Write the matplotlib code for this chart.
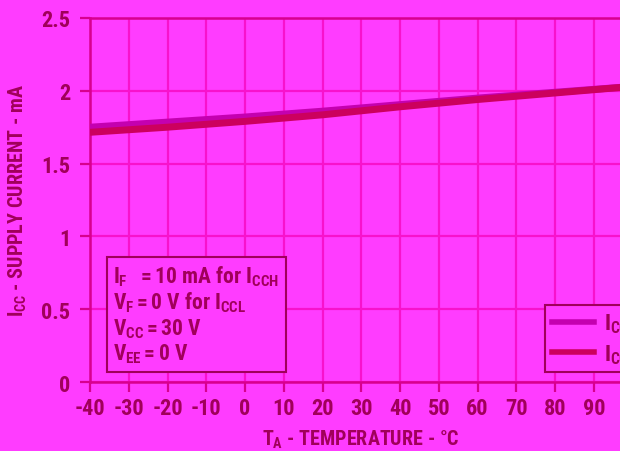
import matplotlib
matplotlib.use("Agg")
import matplotlib.pyplot as plt
from matplotlib.lines import Line2D
from matplotlib import font_manager as fm

# Data
temps = [-40, -20, 0, 20, 40, 60, 80, 100]
icch = [1.75, 1.785, 1.82, 1.86, 1.905, 1.95, 1.99, 2.03]
iccl = [1.715, 1.75, 1.79, 1.835, 1.89, 1.94, 1.985, 2.03]
xticks = [-40, -30, -20, -10, 0, 10, 20, 30, 40, 50, 60, 70, 80, 90]
yticks = [0, 0.5, 1, 1.5, 2, 2.5]
ytick_labels = ["0", "0.5", "1", "1.5", "2", "2.5"]
series_labels = [r"$I_{CCH}$", r"$I_{CCL}$"]
conditions = (r"$I_F\ \ = 10\ mA\ for\ I_{CCH}$" "\n"
              r"$V_F = 0\ V\ for\ I_{CCL}$" "\n"
              r"$V_{CC} = 30\ V$" "\n"
              r"$V_{EE} = 0\ V$")

names = {f.name for f in fm.fontManager.ttflist}
stretches = {(f.name, f.stretch) for f in fm.fontManager.ttflist}
FONT = "DejaVu Sans"
STRETCH = "normal"
for cand in ["Liberation Sans Narrow", "Roboto Condensed", "Open Sans Condensed",
             "DejaVu Sans Condensed"]:
    if cand in names:
        FONT = cand
        break
else:
    for nm, st in stretches:
        if nm == "DejaVu Sans" and st not in ("normal", 500):
            STRETCH = "condensed"

plt.rcParams["font.family"] = [FONT, "DejaVu Sans"]
plt.rcParams["font.weight"] = "bold"
plt.rcParams["font.stretch"] = STRETCH
plt.rcParams["mathtext.fontset"] = "custom"
spec = FONT + ":bold" + (":condensed" if STRETCH == "condensed" else "")
for k in ("rm", "it", "bf", "sf"):
    plt.rcParams["mathtext." + k] = spec

BG = "#FF3CFF"
GRID = "#F812CC"
SPINE = "#D8008E"
TEXT = "#A0005A"
C_H = "#C400B0"
C_L = "#CC005E"

W, H = 620, 452
fig = plt.figure(figsize=(W / 100, H / 100), dpi=100, facecolor=BG)
x0, x1 = 90, 90 + 140 * 3.875
y_top, y_bot = 19, 383
ax = fig.add_axes([x0 / W, 1 - y_bot / H, (x1 - x0) / W, (y_bot - y_top) / H])
ax.set_facecolor(BG)

ax.plot(temps, icch, color=C_H, lw=5, solid_capstyle="butt", zorder=3)
ax.plot(temps, iccl, color=C_L, lw=5, solid_capstyle="butt", zorder=4)

ax.set_xlim(-40, 100)
ax.set_ylim(0, 2.5)
ax.set_xticks(xticks)
ax.set_xticklabels([str(t) for t in xticks])
ax.set_yticks(yticks)
ax.set_yticklabels(ytick_labels)
ax.grid(True, color=GRID, lw=1.6, zorder=1)
ax.tick_params(axis="both", colors=SPINE, width=1.6, length=7, labelsize=16,
               labelcolor=TEXT)
ax.tick_params(axis="y", pad=7)
ax.tick_params(axis="x", pad=4)
for s in ax.spines.values():
    s.set_color(SPINE)
    s.set_linewidth(1.8)
ax.spines["right"].set_visible(False)

ax.set_xlabel(r"$T_A$ - TEMPERATURE - °C", fontsize=14.5, color=TEXT,
              fontweight="bold", labelpad=6)
ax.set_ylabel(r"$I_{CC}$ - SUPPLY CURRENT - mA", fontsize=14.5, color=TEXT,
              fontweight="bold", labelpad=9)

ax.text(0.043, 0.326, conditions, transform=ax.transAxes, fontsize=15.5,
        color=TEXT, va="top", ha="left", linespacing=1.1,
        bbox=dict(boxstyle="square,pad=0.3", facecolor=BG, edgecolor=TEXT,
                  linewidth=1.5), zorder=5)

handles = [Line2D([0], [0], color=C_H, lw=4), Line2D([0], [0], color=C_L, lw=4)]
leg = fig.legend(handles, series_labels, loc="upper left",
                 bbox_to_anchor=(545 / W, 1 - 306 / H), borderaxespad=0,
                 fontsize=16, frameon=True, fancybox=False, handlelength=1.9,
                 labelcolor=TEXT, borderpad=0.3, labelspacing=0.3,
                 handletextpad=0.45)
leg.get_frame().set_facecolor(BG)
leg.get_frame().set_edgecolor(TEXT)
leg.get_frame().set_linewidth(1.5)
leg.get_frame().set_alpha(1)

fig.savefig("out.png", dpi=100, facecolor=BG)
